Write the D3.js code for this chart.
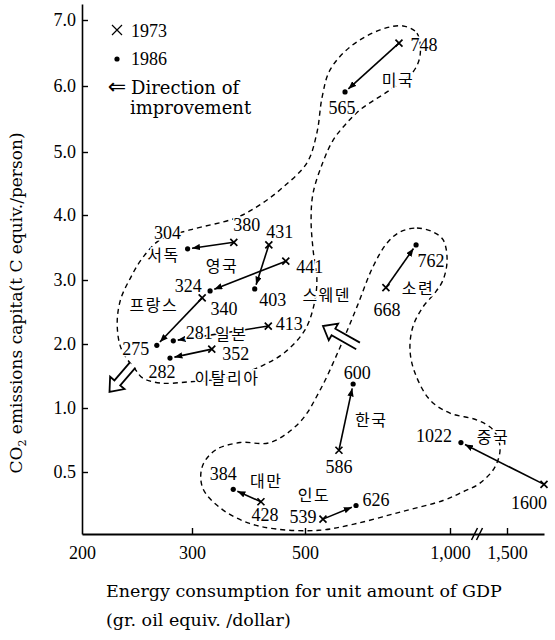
<!DOCTYPE html>
<html>
<head>
<meta charset="utf-8">
<script src="https://cdn.jsdelivr.net/npm/d3@7"></script>
<style>
  body { margin: 0; background: #fff; }
</style>
</head>
<body>
<div id="chart"></div>
<script>
// values (x = position on the energy axis, y = CO2 per person)
var countries = ["미국", "서독", "영국", "스웨덴", "프랑스", "일본", "이탈리아", "소련", "한국", "중국", "대만", "인도"];
var label1973 = ["748", "380", "441", "431", "324", "413", "352", "668", "586", "1600", "428", "539"];
var label1986 = ["565", "304", "340", "403", "275", "281", "282", "762", "600", "1022", "384", "626"];
var x1973 = [824, 374, 466, 436, 318, 435, 335, 779, 617, 1600, 422, 562];
var y1973 = [6.65, 3.58, 3.29, 3.54, 2.72, 2.28, 1.92, 2.88, 0.67, 0.40, 0.26, 0.12];
var x1986 = [638, 296, 332, 411, 268, 283, 280, 883, 666, 1096, 373, 676];
var y1986 = [5.91, 3.48, 2.83, 2.86, 1.98, 2.05, 1.78, 3.54, 1.375, 0.73, 0.36, 0.23];

var xTicks = [200, 300, 500, 1000, 1500];
var yTicks = [0.5, 1, 2, 3, 4, 5, 6, 7];

// hand drawn groupings (dashed loops), in axis units
var loopAx = [838, 886, 897, 872, 793, 690, 638, 597, 562, 528, 521, 528, 541, 531, 500, 465, 424, 367, 298, 271, 255, 249, 236, 232, 235, 244, 255, 271, 298, 376, 420, 461, 507, 541, 559, 586, 655, 759];
var loopAy = [6.91, 6.80, 6.47, 6.21, 5.94, 5.64, 5.41, 5.18, 4.84, 4.35, 3.92, 3.46, 3.0, 2.61, 2.22, 1.875, 1.66, 1.48, 1.41, 1.39, 1.47, 1.59, 1.91, 2.30, 2.69, 3.03, 3.34, 3.62, 3.77, 3.95, 4.16, 4.44, 4.83, 5.29, 5.83, 6.24, 6.59, 6.85];
var loopBx = [828, 886, 941, 976, 990, 976, 948, 907, 872, 862, 879, 931, 1000, 1237, 1377, 1439, 1395, 1263, 1114, 976, 828, 669, 548, 449, 399, 350, 319, 318, 341, 385, 438, 491, 552, 621, 679, 734, 783];
var loopBy = [3.74, 3.80, 3.74, 3.62, 3.31, 3.0, 2.80, 2.58, 2.27, 1.91, 1.55, 1.125, 0.96, 0.906, 0.83, 0.695, 0.54, 0.41, 0.34, 0.27, 0.177, 0.08, 0.03, 0.04, 0.09, 0.21, 0.37, 0.54, 0.67, 0.73, 0.73, 0.89, 1.28, 1.95, 2.58, 3.2, 3.57];

// "direction of improvement" arrows
var improveTail = [[683, 1.97], [246, 1.67]];
var improveTip = [[562, 2.28], [225, 1.25]];

// label placement, px offsets from the marks (names are placed from the 1986 dot)
var off1973 = [[25, 2], [13, -17], [24, 6], [11, -13], [-14, -12], [21, -2], [24, 5], [1, 22], [0, 17], [-15, 19], [4, 13], [-20, -2]];
var off1986 = [[-3, 16], [-20, -16], [14, 18], [18, 11], [-21, 4], [26, -8], [-8, 14], [15, 16], [4, -11], [-27, -7], [-10, -15], [20, -5]];
var offName = [[53, -13], [-24, 5], [12, -26], [72, 5], [-3, -41], [58, -8], [57, 19], [2, 42], [18, 35], [32, -7], [33, -9], [-42, -11]];

var width = 555, height = 640;
var numFont = "'Liberation Serif', 'Times New Roman', serif";
var textFont = "'DejaVu Serif', serif";
var korFont = "'Noto Sans CJK KR', sans-serif";

var svg = d3.select("#chart")
  .append("svg")
    .attr("width", width)
    .attr("height", height)
    .style("background", "#fff");

// both axes are hand-spaced in the original, so piecewise scales
var x = d3.scaleLinear()
  .domain([200, 300, 500, 1000, 1500, 1600])
  .range([82, 192, 305, 450, 507, 544]);
var y = d3.scaleLinear()
  .domain([0, 0.5, 1, 2, 3, 4, 5, 6, 7, 7.25])
  .range([534, 472, 408, 344, 280, 215, 152, 86, 20, 4]);

svg.append("defs").append("marker")
    .attr("id", "ah")
    .attr("viewBox", "0 0 10 8")
    .attr("refX", 10)
    .attr("refY", 4)
    .attr("markerWidth", 8)
    .attr("markerHeight", 6.4)
    .attr("markerUnits", "userSpaceOnUse")
    .attr("orient", "auto")
  .append("path")
    .attr("d", "M0,0L10,4L0,8z")
    .attr("fill", "#000");

// dashed groupings
var loop = d3.line()
  .x(function(d) { return x(d[0]); })
  .y(function(d) { return y(d[1]); })
  .curve(d3.curveCatmullRomClosed.alpha(0.5));

[[loopAx, loopAy], [loopBx, loopBy]].forEach(function(l) {
  svg.append("path")
    .attr("d", loop(d3.zip(l[0], l[1])))
    .attr("fill", "none")
    .attr("stroke", "#000")
    .attr("stroke-width", 1.4)
    .attr("stroke-dasharray", "5,4");
});

// axes
var yAxis = svg.append("g")
  .attr("transform", "translate(" + x(200) + ",0)")
  .call(d3.axisLeft(y).tickValues(yTicks).tickFormat(d3.format(".1f"))
    .tickSizeInner(-6).tickSizeOuter(0).tickPadding(6));
var xAxis = svg.append("g")
  .attr("transform", "translate(0," + y(0) + ")")
  .call(d3.axisBottom(x).tickValues(xTicks).tickFormat(d3.format(","))
    .tickSizeInner(-6).tickSizeOuter(0).tickPadding(12));

[yAxis, xAxis].forEach(function(a) {
  a.selectAll("text")
    .style("font-family", numFont)
    .style("font-size", "18px")
    .attr("fill", "#000");
  a.selectAll("line").attr("stroke", "#000").attr("stroke-width", 1.4);
});
yAxis.select(".domain").attr("stroke", "#000").attr("stroke-width", 1.6);
xAxis.select(".domain").attr("stroke", "#000").attr("stroke-width", 2.2);
xAxis.selectAll(".tick").filter(function(d) { return d === 200; }).select("line").remove();

// axis break between 1,000 and 1,500
[0, 5].forEach(function(dx) {
  svg.append("line")
    .attr("x1", x(1215) + dx - 3).attr("y1", y(0) + 6)
    .attr("x2", x(1215) + dx + 3).attr("y2", y(0) - 6)
    .attr("stroke", "#000").attr("stroke-width", 1.5);
});

// improvement arrows (hollow)
improveTail.forEach(function(t, i) {
  var S = [x(t[0]), y(t[1])];
  var T = [x(improveTip[i][0]), y(improveTip[i][1])];
  var len = Math.hypot(T[0] - S[0], T[1] - S[1]);
  var u = [(T[0] - S[0]) / len, (T[1] - S[1]) / len];
  var n = [-u[1], u[0]];
  var h = 3.8, H = 9.5, L = 12;
  var B = [T[0] - u[0] * L, T[1] - u[1] * L];
  function p(base, k) { return [base[0] + n[0] * k, base[1] + n[1] * k]; }
  var pts = [p(S, h), p(B, h), p(B, H), T, p(B, -H), p(B, -h), p(S, -h)];
  svg.append("path")
    .attr("d", "M" + pts.join("L") + "Z")
    .attr("fill", "#fff")
    .attr("stroke", "none");
  svg.append("path")
    .attr("d", "M" + pts.join("L"))
    .attr("fill", "none")
    .attr("stroke", "#000")
    .attr("stroke-width", 1.8)
    .attr("stroke-linejoin", "miter");
});

// movement lines 1973 -> 1986
countries.forEach(function(c, i) {
  var x0 = x(x1973[i]), y0 = y(y1973[i]);
  var x1 = x(x1986[i]), y1 = y(y1986[i]);
  var len = Math.hypot(x1 - x0, y1 - y0);
  var k = (len - 4.5) / len;
  svg.append("line")
    .attr("x1", x0).attr("y1", y0)
    .attr("x2", x0 + (x1 - x0) * k).attr("y2", y0 + (y1 - y0) * k)
    .attr("stroke", "#000")
    .attr("stroke-width", 1.6)
    .attr("marker-end", "url(#ah)");
});

// 1973 crosses
svg.append("g").selectAll("path")
  .data(countries)
  .enter()
  .append("path")
    .attr("transform", function(d, i) { return "translate(" + x(x1973[i]) + "," + y(y1973[i]) + ")"; })
    .attr("d", "M-3.5,-3.5L3.5,3.5M-3.5,3.5L3.5,-3.5")
    .attr("stroke", "#000")
    .attr("stroke-width", 1.7);

// 1986 dots
svg.append("g").selectAll("circle")
  .data(countries)
  .enter()
  .append("circle")
    .attr("cx", function(d, i) { return x(x1986[i]); })
    .attr("cy", function(d, i) { return y(y1986[i]); })
    .attr("r", 2.6)
    .attr("fill", "#000");

function addLabel(txt, px, py, font, size, spacing) {
  return svg.append("text")
    .attr("x", px)
    .attr("y", py)
    .attr("text-anchor", "middle")
    .attr("dominant-baseline", "central")
    .style("font-family", font)
    .style("font-size", size + "px")
    .style("letter-spacing", (spacing || 0) + "px")
    .attr("fill", "#000")
    .attr("stroke", "#fff")
    .attr("stroke-width", 3)
    .attr("paint-order", "stroke")
    .text(txt);
}

countries.forEach(function(c, i) {
  var ax = x(x1973[i]), ay = y(y1973[i]);
  var bx = x(x1986[i]), by = y(y1986[i]);
  addLabel(label1973[i], ax + off1973[i][0], ay + off1973[i][1], numFont, 18);
  addLabel(label1986[i], bx + off1986[i][0], by + off1986[i][1], numFont, 18);
  addLabel(c, bx + offName[i][0], by + offName[i][1], korFont, 16, 1.5);
});

// legend
var lg = svg.append("g");
lg.append("path")
  .attr("transform", "translate(117,30)")
  .attr("d", "M-5,-5L5,5M-5,5L5,-5")
  .attr("stroke", "#000").attr("stroke-width", 1.2);
lg.append("text").attr("x", 131).attr("y", 37).text("1973")
  .style("font-family", numFont).style("font-size", "18px");
lg.append("circle").attr("cx", 117).attr("cy", 59).attr("r", 2.6).attr("fill", "#000");
lg.append("text").attr("x", 131).attr("y", 65).text("1986")
  .style("font-family", numFont).style("font-size", "18px");
lg.append("text").attr("x", 117).attr("y", 94).attr("text-anchor", "middle").text("\u21D0")
  .style("font-family", "'DejaVu Sans', sans-serif").style("font-size", "22px");
lg.append("text").attr("x", 131).attr("y", 94).text("Direction of")
  .style("font-family", textFont).style("font-size", "18px");
lg.append("text").attr("x", 130).attr("y", 114).text("improvement")
  .style("font-family", textFont).style("font-size", "18px");

// axis titles
var yt = svg.append("text")
  .attr("transform", "translate(22,303) rotate(-90)")
  .attr("text-anchor", "middle")
  .style("font-family", textFont)
  .style("font-size", "17px");
yt.append("tspan").text("CO");
yt.append("tspan").attr("dy", 4).style("font-size", "11px").text("2");
yt.append("tspan").attr("dy", -4).text(" emissions capita(t C equiv./person)");

svg.append("text")
  .attr("x", 106).attr("y", 597)
  .style("font-family", textFont).style("font-size", "17.5px")
  .text("Energy consumption for unit amount of GDP");
svg.append("text")
  .attr("x", 106).attr("y", 626)
  .style("font-family", textFont).style("font-size", "17.5px")
  .text("(gr. oil equiv. /dollar)");
</script>
</body>
</html>
